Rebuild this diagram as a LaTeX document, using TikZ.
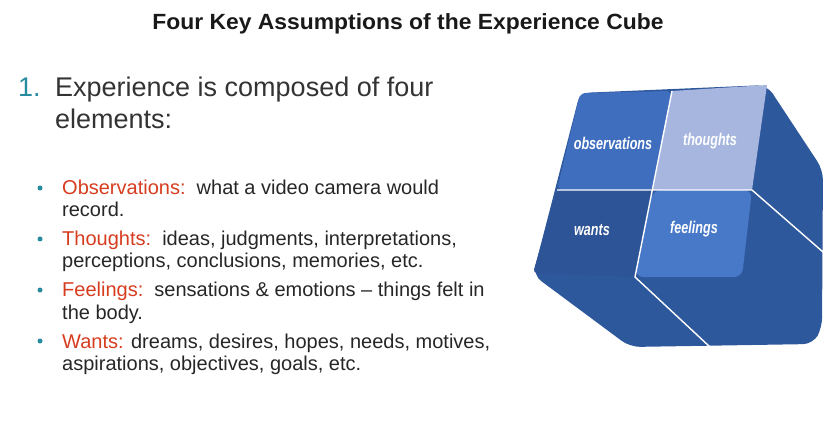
\documentclass[tikz,border=0pt]{standalone}
\usepackage{fontspec}
\setmainfont{Liberation Sans}
\begin{document}
\begin{tikzpicture}[x=1pt,y=-1pt,
  body/.style={anchor=base west,inner sep=0,font=\fontsize{20}{22}\selectfont,text=black!85},
  bul/.style={circle,fill={rgb,255:red,40;green,140;blue,160},inner sep=0,minimum size=5pt},
  cubelbl/.style={font=\bfseries\itshape\fontsize{17}{18}\selectfont,text=white,xscale=0.74},
  edge/.style={white,line width=1.4pt}]
\useasboundingbox (0,0) rectangle (831,433);
\definecolor{sidec}{RGB}{46,88,156}
\definecolor{obsc}{RGB}{64,110,190}
\definecolor{thc}{RGB}{166,182,222}
\definecolor{wac}{RGB}{44,84,150}
\definecolor{fec}{RGB}{72,120,200}
\node[anchor=base,font=\bfseries\fontsize{22}{24}\selectfont,xscale=1.04,text=black!90] (title) at (408,30) {Four Key Assumptions of the Experience Cube};
\node[anchor=base west,inner sep=0,font=\fontsize{27}{30}\selectfont,text={rgb,255:red,40;green,140;blue,160}] (n1) at (18,97) {1.};
\node[anchor=base west,inner sep=0,font=\fontsize{27}{30}\selectfont,text=black!80] (l1) at (55,97) {Experience is composed of four};
\node[anchor=base west,inner sep=0,font=\fontsize{27}{30}\selectfont,text=black!80] (l2) at (55,129) {elements:};
\node[bul] (b1) at (40,188) {}; \node[bul] (b2) at (40,239) {}; \node[bul] (b3) at (40,290) {}; \node[bul] (b4) at (40,341) {};
\node[body] (t1) at (62,195) {\textcolor[RGB]{214,60,30}{Observations:}\ \ what a video camera would};
\node[body] (t1b) at (62,217) {record.};
\node[body] (t2) at (62,246) {\textcolor[RGB]{214,60,30}{Thoughts:}\ \ ideas, judgments, interpretations,};
\node[body] (t2b) at (62,268) {perceptions, conclusions, memories, etc.};
\node[body] (t3) at (62,297) {\textcolor[RGB]{214,60,30}{Feelings:}\ \ sensations \& emotions -- things felt in};
\node[body] (t3b) at (62,319) {the body.};
\node[body] (t4) at (62,348) {\textcolor[RGB]{214,60,30}{Wants:} dreams, desires, hopes, needs, motives,};
\node[body] (t4b) at (62,370) {aspirations, objectives, goals, etc.};
% cube
\fill[sidec,rounded corners=10pt] (580,93) -- (767,85) -- (823,170) -- (822,328) -- (813,344) -- (630,347) -- (533,275) -- cycle;
\fill[obsc,rounded corners=6pt] (580,93) -- (672,91) -- (653,190) -- (557,190) -- cycle;
\fill[thc] (672,91) -- (767,85) -- (752,190) -- (653,190) -- cycle;
\fill[wac,rounded corners=4pt] (557,190) -- (653,190) -- (635,277) -- (533,273) -- cycle;
\fill[fec,rounded corners=8pt] (653,190) -- (752,190) -- (742,277) -- (635,277) -- cycle;
\draw[edge] (672,91) -- (635,277) -- (710,347);
\draw[edge] (557,190) -- (752,190) -- (823,252);
\node[cubelbl] (o) at (613,143) {observations};
\node[cubelbl] (th) at (710,141) {thoughts};
\node[cubelbl] (w) at (592,230) {wants};
\node[cubelbl] (f) at (694,229) {feelings};
\end{tikzpicture}
\end{document}
